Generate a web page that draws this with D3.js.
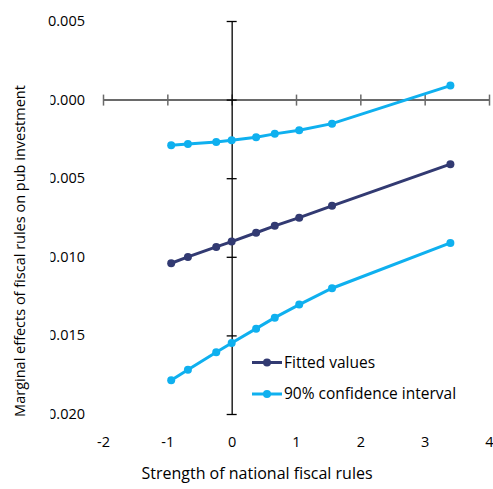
<!DOCTYPE html>
<html lang="en">
<head>
<meta charset="UTF-8">
<script src="https://d3js.org/d3.v7.min.js"></script>
<style>
  body { margin: 0; background: #fff; }
  text { font-family: "Open Sans", Lato, sans-serif; fill: #000; }
</style>
</head>
<body>
<svg id="chart" width="493" height="489"></svg>
<script>
// data
const xVals = [-0.94, -0.68, -0.24, 0, 0.38, 0.67, 1.05, 1.56, 3.40];
const fitted = [-0.01041, -0.01001, -0.00937, -0.00903, -0.00847, -0.00803, -0.00751, -0.00676, -0.00411];
const upperCI = [-0.00290, -0.00282, -0.00269, -0.00258, -0.00239, -0.00218, -0.00195, -0.00153, 0.00089];
const lowerCI = [-0.01785, -0.01718, -0.01607, -0.01548, -0.01457, -0.01387, -0.01304, -0.01200, -0.00912];
const xTicks = [-2, -1, 0, 1, 2, 3, 4];
const yTicks = [0.005, 0, -0.005, -0.010, -0.015, -0.020];
const yTickLabels = ["0.005", "0.000", "-0.005", "-0.010", "-0.015", "-0.020"];
const seriesNames = ["Fitted values", "90% confidence interval"];

const navy = "#323a72", blue = "#0fb0ef";

const svg = d3.select("#chart");
const x = d3.scaleLinear().domain([-2, 4]).range([103, 489]);
const y = d3.scaleLinear().domain([0.005, -0.020]).range([21, 414]);

// horizontal axis through y = 0
const hAxis = svg.append("g")
    .attr("transform", `translate(0,${y(0)})`)
    .call(d3.axisBottom(x).tickValues(xTicks).tickFormat("").tickSizeOuter(0));
hAxis.select(".domain").attr("stroke", "#6a6a6a").attr("stroke-width", 2);
hAxis.selectAll(".tick line").attr("y1", -5).attr("y2", 6).attr("stroke", "#6a6a6a").attr("stroke-width", 1.5);

// vertical axis through x = 0
const vAxis = svg.append("g")
    .attr("transform", `translate(${x(0)},0)`)
    .call(d3.axisLeft(y).tickValues(yTicks).tickFormat("").tickSizeOuter(0));
vAxis.select(".domain").attr("stroke", "#000").attr("stroke-width", 1.3);
vAxis.selectAll(".tick line").attr("x1", -5).attr("x2", 5).attr("stroke", "#000").attr("stroke-width", 1.3);

// x tick labels at the bottom
const xLab = svg.append("g")
    .attr("transform", "translate(0,437)")
    .call(d3.axisBottom(x).tickValues(xTicks).tickFormat(d => String(d)).tickSize(0).tickPadding(0));
xLab.select(".domain").remove();
xLab.selectAll("text").attr("font-size", 14.5).attr("font-family", "'Open Sans', sans-serif").attr("fill", "#000");

// y tick labels on the left, cut at the left as in the picture
svg.append("defs").append("clipPath").attr("id", "cut")
    .append("rect").attr("x", 50.5).attr("y", 0).attr("width", 60).attr("height", 489);
svg.append("g").selectAll("text")
    .data(yTicks)
    .join("text")
    .attr("x", 85)
    .attr("y", d => y(d))
    .attr("dy", "0.35em")
    .attr("text-anchor", "end")
    .attr("font-size", 14.5)
    .attr("clip-path", d => d <= 0 ? "url(#cut)" : null)
    .text((d, i) => yTickLabels[i]);

// axis titles
svg.append("text")
    .attr("x", 257)
    .attr("y", 478.5)
    .attr("text-anchor", "middle")
    .attr("font-size", 16)
    .text("Strength of national fiscal rules");

svg.append("text")
    .attr("transform", "translate(25,251) rotate(-90)")
    .attr("text-anchor", "middle")
    .attr("font-size", 14.5)
    .text("Marginal effects of fiscal rules on pub investment");

// series
const line = d3.line().x((d, i) => x(xVals[i])).y(d => y(d));
const series = [
  { vals: upperCI, color: blue },
  { vals: lowerCI, color: blue },
  { vals: fitted, color: navy }
];
series.forEach(s => {
  svg.append("path")
      .datum(s.vals)
      .attr("d", line)
      .attr("fill", "none")
      .attr("stroke", s.color)
      .attr("stroke-width", 3);
  svg.append("g").selectAll("circle")
      .data(s.vals)
      .join("circle")
      .attr("cx", (d, i) => x(xVals[i]))
      .attr("cy", d => y(d))
      .attr("r", 4)
      .attr("fill", s.color);
});

// legend
const leg = svg.append("g");
[navy, blue].forEach((c, i) => {
  const ly = 362.5 + i * 31.5;
  leg.append("line").attr("x1", 252).attr("x2", 282).attr("y1", ly).attr("y2", ly)
      .attr("stroke", c).attr("stroke-width", 3);
  leg.append("circle").attr("cx", 267).attr("cy", ly).attr("r", 4).attr("fill", c);
  leg.append("text").attr("x", 284).attr("y", ly).attr("dy", "0.35em")
      .attr("font-size", 15.5).text(seriesNames[i]);
});
</script>
</body>
</html>
